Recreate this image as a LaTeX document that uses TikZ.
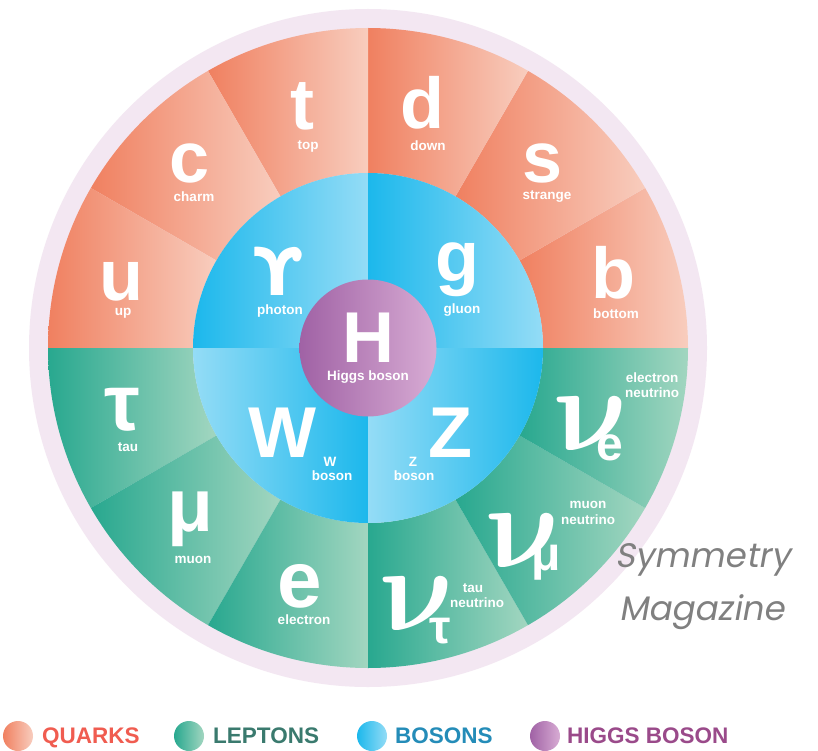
\documentclass[tikz,border=0pt]{standalone}
\usepackage{bm}
\usepackage{fontspec}
\setmainfont{Liberation Sans}
\newfontfamily\dejavu{DejaVu Sans}
\newfontfamily\symfont{Poppins}[FakeSlant=0.18]
\definecolor{qd}{RGB}{240,128,96}
\definecolor{ql}{RGB}{248,205,190}
\definecolor{ld}{RGB}{40,168,143}
\definecolor{ll}{RGB}{162,214,192}
\definecolor{bd}{RGB}{28,184,236}
\definecolor{bl}{RGB}{148,220,246}
\definecolor{hd}{RGB}{160,98,165}
\definecolor{hl}{RGB}{216,172,212}
\definecolor{ringc}{RGB}{243,231,242}
\definecolor{qtext}{RGB}{240,92,80}
\definecolor{ltext}{RGB}{58,122,110}
\definecolor{btext}{RGB}{36,140,184}
\definecolor{htext}{RGB}{154,74,138}
\definecolor{symgray}{RGB}{128,128,128}
\newcommand\bigf[1]{\fontsize{#1}{#1}\selectfont\bfseries}
\tikzset{
  big/.style={text=white, inner sep=0pt, anchor=base, font=\bigf{72}},
  lab/.style={text=white, inner sep=0pt, anchor=base, font=\bigf{13.5}},
  nuglyph/.style={text=white, inner sep=0pt, anchor=base, xscale=12, yscale=12, xslant=-0.25},
  subs/.style={text=white, inner sep=0pt, anchor=base, font=\bigf{48}},
  legtext/.style={inner sep=0pt, anchor=base west, font=\bigf{22.5}},
  symtext/.style={text=symgray, inner sep=0pt, anchor=base, font=\symfont\fontsize{34}{34}\selectfont},
}
\newcommand\annsec[4]{% start, end, dark, light
  \shade[left color=#3, right color=#4] (#1:175pt) arc[start angle=#1, end angle=#2, radius=175pt] -- (#2:320pt) arc[start angle=#2, end angle=#1, radius=320pt] -- cycle;}
\begin{document}
\begin{tikzpicture}[x=1pt,y=1pt]
\useasboundingbox (0,0) rectangle (818,-751);
\fill[white] (0,0) rectangle (818,-751);
\begin{scope}[shift={(368,-348)}]
  \fill[ringc] (0,0) circle[radius=339pt];
  % quarks
  \annsec{0}{30}{qd}{ql}
  \annsec{30}{60}{qd}{ql}
  \annsec{60}{90}{qd}{ql}
  \annsec{90}{120}{qd}{ql}
  \annsec{120}{150}{qd}{ql}
  \annsec{150}{180}{qd}{ql}
  % leptons
  \annsec{180}{210}{ld}{ll}
  \annsec{210}{240}{ld}{ll}
  \annsec{240}{270}{ld}{ll}
  \annsec{270}{300}{ld}{ll}
  \annsec{300}{330}{ld}{ll}
  \annsec{330}{360}{ld}{ll}
  % bosons
  \shade[left color=bd, right color=bl] (0,0) -- (0:175pt) arc[start angle=0, end angle=90, radius=175pt] -- cycle;
  \shade[left color=bd, right color=bl] (0,0) -- (90:175pt) arc[start angle=90, end angle=180, radius=175pt] -- cycle;
  \shade[left color=bl, right color=bd] (0,0) -- (180:175pt) arc[start angle=180, end angle=270, radius=175pt] -- cycle;
  \shade[left color=bl, right color=bd] (0,0) -- (270:175pt) arc[start angle=270, end angle=360, radius=175pt] -- cycle;
  % higgs
  \shade[left color=hd, right color=hl] (0,0) circle[radius=68.5pt];
\end{scope}
% quark letters
\node[big] (t) at (302,-130) {t};
\node[lab] (tl) at (308,-150) {top};
\node[big] (c) at (190,-183) {c};
\node[lab] (cl) at (194,-202) {charm};
\node[big] (u) at (121,-300) {u};
\node[lab] (ul) at (123,-315) {up};
\node[big] (d) at (422,-129) {d};
\node[lab] (dl) at (428,-151) {down};
\node[big] (s) at (543,-183) {s};
\node[lab] (sl) at (547,-200) {strange};
\node[big] (b) at (613,-298) {b};
\node[lab] (bl) at (616,-318) {bottom};
% bosons
\node[big, font=\dejavu\bigf{66}] (gam) at (278,-295) {ϒ};
\node[lab] (gaml) at (280,-314) {photon};
\node[big] (g) at (457,-281) {g};
\node[lab] (gl) at (462,-313) {gluon};
\node[big] (H) at (368,-362) {H};
\node[lab] (Hl) at (368,-380) {Higgs boson};
\node[big] (W) at (282,-457) {W};
\node[lab] (Wl1) at (330,-466) {W};
\node[lab] (Wl2) at (332,-480) {boson};
\node[big] (Z) at (450,-457) {Z};
\node[lab] (Zl1) at (413,-466) {Z};
\node[lab] (Zl2) at (414,-480) {boson};
% leptons
\node[big, font=\bigf{80}] (tau) at (122,-430) {τ};
\node[lab] (taul) at (128,-451) {tau};
\node[big, font=\bigf{75}] (mu) at (190,-531) {μ};
\node[lab] (mul) at (193,-563) {muon};
\node[big, font=\bigf{80}] (e) at (300,-607) {e};
\node[lab] (el) at (304,-624) {electron};
\node[nuglyph] (nut) at (426,-630) {$\bm{\nu}$};
\node[subs] (nuts) at (440,-643) {τ};
\node[lab] (nutl1) at (473,-592) {tau};
\node[lab] (nutl2) at (477,-607) {neutrino};
\node[nuglyph] (num) at (532,-567) {$\bm{\nu}$};
\node[subs] (nums) at (546,-570) {μ};
\node[lab] (numl1) at (588,-508) {muon};
\node[lab] (numl2) at (588,-524) {neutrino};
\node[nuglyph] (nue) at (600,-450) {$\bm{\nu}$};
\node[subs] (nues) at (610,-460) {e};
\node[lab] (nuel1) at (652,-382) {electron};
\node[lab] (nuel2) at (652,-397) {neutrino};
% credit
\node[symtext] (sym1) at (703,-567) {Symmetry};
\node[symtext] (sym2) at (702,-620) {Magazine};
% legend
\shade[left color=qd, right color=ql] (18,-736) circle[radius=15pt];
\node[legtext, text=qtext] (lq) at (42,-743) {QUARKS};
\shade[left color=ld, right color=ll] (189,-736) circle[radius=15pt];
\node[legtext, text=ltext] (ll) at (213,-743) {LEPTONS};
\shade[left color=bd, right color=bl] (372,-736) circle[radius=15pt];
\node[legtext, text=btext] (lb) at (395,-743) {BOSONS};
\shade[left color=hd, right color=hl] (545,-736) circle[radius=15pt];
\node[legtext, text=htext] (lh) at (567,-743) {HIGGS BOSON};
\end{tikzpicture}
\end{document}
